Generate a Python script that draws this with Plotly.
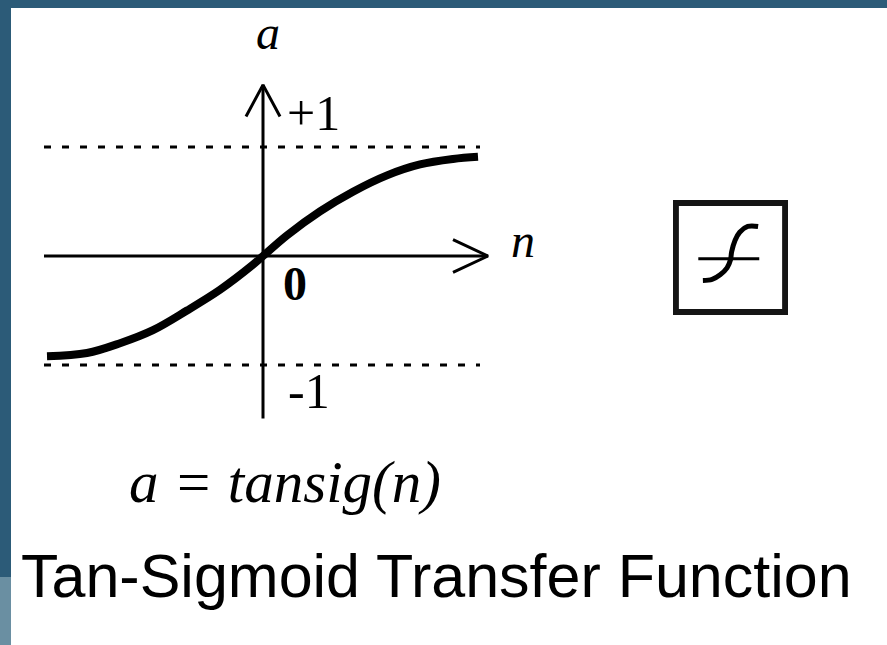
import plotly.graph_objects as go

# tansig curve
curve_n = [-2.16, -1.76, -1.43, -1.10, -0.76, -0.43, -0.10, 0.0, 0.24, 0.57, 0.90, 1.24, 1.57, 1.90, 2.15]
curve_a = [-0.92, -0.89, -0.80, -0.68, -0.50, -0.31, -0.08, 0.0, 0.19, 0.41, 0.59, 0.74, 0.84, 0.89, 0.91]

# saturation levels and their labels
levels = [1, -1]
level_labels = ["+1", "-1"]
origin_label = "0"
axis_names = ["a", "n"]

# little transfer-function icon (unit box coords)
icon_u = [0.26, 0.34, 0.41, 0.47, 0.50, 0.51, 0.54, 0.58, 0.65, 0.74]
icon_v = [0.30, 0.31, 0.35, 0.41, 0.48, 0.55, 0.65, 0.72, 0.77, 0.77]

equation = "a = tansig(n)"
title = "Tan-Sigmoid Transfer Function"

W, H = 887, 645
x_left, x_right = -2.19, 2.25
y_bottom, y_top = -1.49, 1.57

fig = go.Figure()

# the slide background: blue frame, white panel
fig.add_shape(type="rect", xref="paper", yref="paper", x0=0, x1=1, y0=0, y1=1,
              fillcolor="#2c5b78", line_width=0, layer="below")
fig.add_shape(type="rect", xref="paper", yref="paper", x0=0, x1=11 / W, y0=0, y1=68 / H,
              fillcolor="#6a8fa2", line_width=0, layer="below")
fig.add_shape(type="rect", xref="paper", yref="paper", x0=11 / W, x1=1, y0=0, y1=1 - 8 / H,
              fillcolor="white", line_width=0, layer="below")

# dotted limit lines
for lv in levels:
    fig.add_trace(go.Scatter(x=[x_left, 2.17], y=[lv, lv], mode="lines",
                             line=dict(color="black", width=3, dash="7px,11px"),
                             hoverinfo="skip"))

# axes with open arrowheads
fig.add_trace(go.Scatter(x=[x_left, x_right], y=[0, 0], mode="lines",
                         line=dict(color="black", width=3), hoverinfo="skip"))
fig.add_trace(go.Scatter(x=[1.90, x_right, 1.90], y=[0.15, 0, -0.15], mode="lines",
                         line=dict(color="black", width=3), hoverinfo="skip"))
fig.add_trace(go.Scatter(x=[0, 0], y=[y_bottom, y_top], mode="lines",
                         line=dict(color="black", width=3), hoverinfo="skip"))
fig.add_trace(go.Scatter(x=[-0.17, 0, 0.17], y=[1.28, y_top, 1.28], mode="lines",
                         line=dict(color="black", width=3), hoverinfo="skip"))

# the curve
fig.add_trace(go.Scatter(x=curve_n, y=curve_a, mode="lines", line_shape="spline",
                         line=dict(color="black", width=8), hoverinfo="skip"))

# icon
fig.add_trace(go.Scatter(x=[0.22, 0.75], y=[0.49, 0.49], mode="lines", xaxis="x2", yaxis="y2",
                         line=dict(color="black", width=3), hoverinfo="skip"))
fig.add_trace(go.Scatter(x=icon_u, y=icon_v, mode="lines", line_shape="spline",
                         xaxis="x2", yaxis="y2",
                         line=dict(color="black", width=5), hoverinfo="skip"))
fig.add_shape(type="rect", xref="x2", yref="y2", x0=0.025, x1=0.975, y0=0.025, y1=0.975,
              line=dict(color="#151515", width=6))

serif = "Liberation Serif, Times New Roman, serif"
ann = [
    dict(x=0.05, y=2.05, text="<i>" + axis_names[0] + "</i>", size=48, font=serif),
    dict(x=2.60, y=0.14, text="<i>" + axis_names[1] + "</i>", size=48, font=serif),
    dict(x=0.50, y=1.31, text=level_labels[0], size=50, font=serif),
    dict(x=0.46, y=-1.24, text=level_labels[1], size=50, font=serif),
    dict(x=0.32, y=-0.25, text="<b>" + origin_label + "</b>", size=48, font=serif),
    dict(x=0.22, y=-2.07, text="<i>" + equation + "</i>", size=59, font=serif),
    dict(x=1.73, y=-2.94, text=title, size=61, font="Liberation Sans, Arial, sans-serif"),
]
for a in ann:
    fig.add_annotation(x=a["x"], y=a["y"], text=a["text"], showarrow=False,
                       xanchor="center", yanchor="middle",
                       font=dict(family=a["font"], size=a["size"], color="black"))

fig.update_layout(
    width=W, height=H,
    margin=dict(l=0, r=0, t=0, b=0),
    paper_bgcolor="#2c5b78",
    plot_bgcolor="rgba(0,0,0,0)",
    showlegend=False,
    xaxis=dict(range=[(0 - 263) / 100, (W - 263) / 100], visible=False, domain=[0, 1]),
    yaxis=dict(range=[(256 - H) / 109, 256 / 109], visible=False, domain=[0, 1]),
    xaxis2=dict(range=[0, 1], visible=False, domain=[673 / W, 788 / W], anchor="y2"),
    yaxis2=dict(range=[0, 1], visible=False, domain=[(H - 315) / H, (H - 200) / H], anchor="x2"),
)

fig.write_html("out.html", config={"displayModeBar": False},
               post_script="document.body.style.margin='0';")
